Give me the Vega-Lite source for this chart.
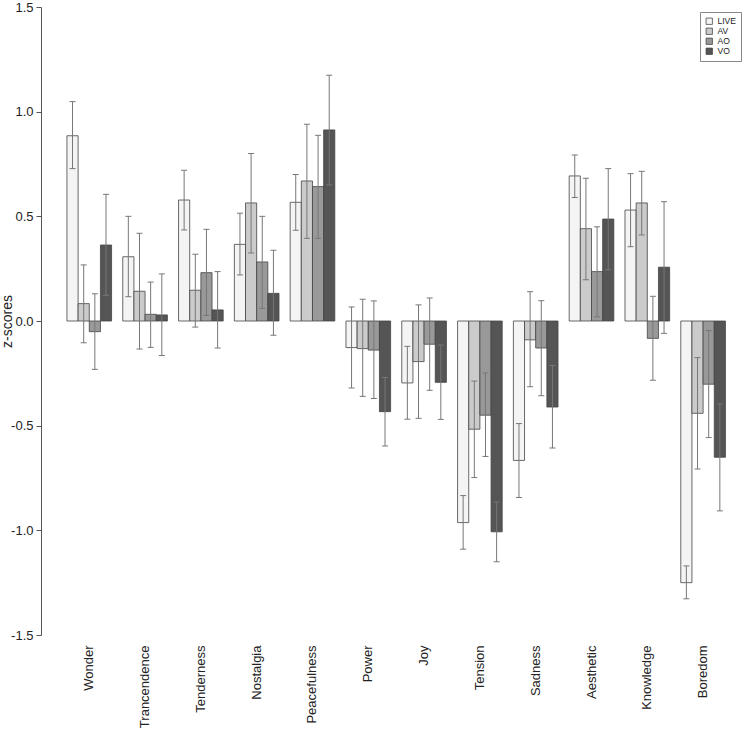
{
  "$schema": "https://vega.github.io/schema/vega-lite/v6.json",
  "width": 700,
  "height": 628,
  "autosize": {"type": "none"},
  "padding": {"left": 41, "top": 7, "right": 7, "bottom": 94},
  "background": "white",
  "config": {"view": {"stroke": null}, "font": "Liberation Sans"},
  "data": {
    "values": [
      {"emotion": "Wonder", "cond": "LIVE", "mean": 0.885, "lo": 0.728, "hi": 1.048},
      {"emotion": "Wonder", "cond": "AV", "mean": 0.083, "lo": -0.104, "hi": 0.268},
      {"emotion": "Wonder", "cond": "AO", "mean": -0.051, "lo": -0.231, "hi": 0.13},
      {"emotion": "Wonder", "cond": "VO", "mean": 0.363, "lo": 0.123, "hi": 0.605},
      {"emotion": "Trancendence", "cond": "LIVE", "mean": 0.307, "lo": 0.116, "hi": 0.5},
      {"emotion": "Trancendence", "cond": "AV", "mean": 0.142, "lo": -0.134, "hi": 0.419},
      {"emotion": "Trancendence", "cond": "AO", "mean": 0.032, "lo": -0.126, "hi": 0.186},
      {"emotion": "Trancendence", "cond": "VO", "mean": 0.029, "lo": -0.165, "hi": 0.225},
      {"emotion": "Tenderness", "cond": "LIVE", "mean": 0.578, "lo": 0.435, "hi": 0.72},
      {"emotion": "Tenderness", "cond": "AV", "mean": 0.147, "lo": -0.029, "hi": 0.319},
      {"emotion": "Tenderness", "cond": "AO", "mean": 0.231, "lo": 0.027, "hi": 0.438},
      {"emotion": "Tenderness", "cond": "VO", "mean": 0.053, "lo": -0.129, "hi": 0.236},
      {"emotion": "Nostalgia", "cond": "LIVE", "mean": 0.366, "lo": 0.22, "hi": 0.515},
      {"emotion": "Nostalgia", "cond": "AV", "mean": 0.564, "lo": 0.325, "hi": 0.8},
      {"emotion": "Nostalgia", "cond": "AO", "mean": 0.282, "lo": 0.06, "hi": 0.5},
      {"emotion": "Nostalgia", "cond": "VO", "mean": 0.132, "lo": -0.068, "hi": 0.338},
      {"emotion": "Peacefulness", "cond": "LIVE", "mean": 0.567, "lo": 0.433, "hi": 0.7},
      {"emotion": "Peacefulness", "cond": "AV", "mean": 0.669, "lo": 0.395, "hi": 0.94},
      {"emotion": "Peacefulness", "cond": "AO", "mean": 0.642, "lo": 0.395, "hi": 0.887},
      {"emotion": "Peacefulness", "cond": "VO", "mean": 0.913, "lo": 0.65, "hi": 1.174},
      {"emotion": "Power", "cond": "LIVE", "mean": -0.127, "lo": -0.32, "hi": 0.067},
      {"emotion": "Power", "cond": "AV", "mean": -0.132, "lo": -0.36, "hi": 0.104},
      {"emotion": "Power", "cond": "AO", "mean": -0.139, "lo": -0.37, "hi": 0.096},
      {"emotion": "Power", "cond": "VO", "mean": -0.433, "lo": -0.597, "hi": -0.27},
      {"emotion": "Joy", "cond": "LIVE", "mean": -0.296, "lo": -0.469, "hi": -0.121},
      {"emotion": "Joy", "cond": "AV", "mean": -0.194, "lo": -0.465, "hi": 0.077},
      {"emotion": "Joy", "cond": "AO", "mean": -0.111, "lo": -0.331, "hi": 0.11},
      {"emotion": "Joy", "cond": "VO", "mean": -0.293, "lo": -0.47, "hi": -0.115},
      {"emotion": "Tension", "cond": "LIVE", "mean": -0.963, "lo": -1.09, "hi": -0.834},
      {"emotion": "Tension", "cond": "AV", "mean": -0.517, "lo": -0.748, "hi": -0.287},
      {"emotion": "Tension", "cond": "AO", "mean": -0.45, "lo": -0.647, "hi": -0.248},
      {"emotion": "Tension", "cond": "VO", "mean": -1.007, "lo": -1.15, "hi": -0.865},
      {"emotion": "Sadness", "cond": "LIVE", "mean": -0.666, "lo": -0.843, "hi": -0.49},
      {"emotion": "Sadness", "cond": "AV", "mean": -0.09, "lo": -0.314, "hi": 0.14},
      {"emotion": "Sadness", "cond": "AO", "mean": -0.129, "lo": -0.357, "hi": 0.097},
      {"emotion": "Sadness", "cond": "VO", "mean": -0.411, "lo": -0.607, "hi": -0.213},
      {"emotion": "Aesthetic", "cond": "LIVE", "mean": 0.693, "lo": 0.59, "hi": 0.793},
      {"emotion": "Aesthetic", "cond": "AV", "mean": 0.441, "lo": 0.197, "hi": 0.682},
      {"emotion": "Aesthetic", "cond": "AO", "mean": 0.236, "lo": 0.02, "hi": 0.45},
      {"emotion": "Aesthetic", "cond": "VO", "mean": 0.487, "lo": 0.245, "hi": 0.728},
      {"emotion": "Knowledge", "cond": "LIVE", "mean": 0.53, "lo": 0.355, "hi": 0.704},
      {"emotion": "Knowledge", "cond": "AV", "mean": 0.564, "lo": 0.411, "hi": 0.715},
      {"emotion": "Knowledge", "cond": "AO", "mean": -0.083, "lo": -0.283, "hi": 0.118},
      {"emotion": "Knowledge", "cond": "VO", "mean": 0.257, "lo": -0.059, "hi": 0.57},
      {"emotion": "Boredom", "cond": "LIVE", "mean": -1.25, "lo": -1.327, "hi": -1.17},
      {"emotion": "Boredom", "cond": "AV", "mean": -0.441, "lo": -0.707, "hi": -0.175},
      {"emotion": "Boredom", "cond": "AO", "mean": -0.302, "lo": -0.557, "hi": -0.046},
      {"emotion": "Boredom", "cond": "VO", "mean": -0.651, "lo": -0.907, "hi": -0.396}
    ]
  },
  "encoding": {
    "x": {
      "field": "emotion",
      "type": "nominal",
      "sort": ["Wonder", "Trancendence", "Tenderness", "Nostalgia", "Peacefulness", "Power", "Joy", "Tension", "Sadness", "Aesthetic", "Knowledge", "Boredom"],
      "scale": {"paddingInner": 0.2, "paddingOuter": 0.372, "align": 0.625},
      "axis": {
        "title": null,
        "domain": false,
        "ticks": false,
        "labelAngle": -90,
        "labelAlign": "right",
        "labelBaseline": "middle",
        "labelPadding": 10,
        "labelFontSize": 13,
        "labelColor": "#222222",
        "labelFont": "Liberation Sans"
      }
    },
    "xOffset": {
      "field": "cond",
      "type": "nominal",
      "sort": ["LIVE", "AV", "AO", "VO"],
      "scale": {"paddingInner": 0, "paddingOuter": 0}
    }
  },
  "layer": [
    {
      "mark": {"type": "bar", "stroke": "#444444", "strokeWidth": 0.8},
      "encoding": {
        "y": {
          "field": "mean",
          "type": "quantitative",
          "scale": {"domain": [-1.5, 1.5], "nice": false, "zero": true},
          "axis": {
            "title": "z-scores",
            "titleFontSize": 14,
            "titleFontWeight": "normal",
            "titleColor": "#222222",
            "titleFont": "Liberation Sans",
            "titlePadding": -4,
            "values": [-1.5, -1, -0.5, 0, 0.5, 1, 1.5],
            "labelExpr": "(datum.value < 0 ? '-' : '') + format(abs(datum.value), '.1f')",
            "labelFontSize": 13,
            "labelColor": "#222222",
            "labelFont": "Liberation Sans",
            "tickSize": 5,
            "tickColor": "#555555",
            "domainColor": "#555555",
            "grid": false,
            "labelPadding": 3
          }
        },
        "fill": {
          "field": "cond",
          "type": "nominal",
          "sort": ["LIVE", "AV", "AO", "VO"],
          "scale": {"domain": ["LIVE", "AV", "AO", "VO"], "range": ["#f4f4f4", "#cbcbcb", "#999999", "#555555"]},
          "legend": {
            "title": null,
            "orient": "none",
            "legendX": 659,
            "legendY": 5,
            "strokeColor": "#888888",
            "fillColor": "white",
            "padding": 5,
            "symbolType": "square",
            "symbolSize": 40,
            "symbolStrokeColor": "#333333",
            "symbolStrokeWidth": 0.7,
            "symbolOpacity": 1,
            "labelFontSize": 8.5,
            "labelColor": "#222222",
            "labelFont": "Liberation Sans",
            "labelOffset": 4,
            "rowPadding": 0
          }
        }
      }
    },
    {
      "mark": {"type": "rule", "color": "#777777", "strokeWidth": 1},
      "encoding": {
        "y": {"field": "lo", "type": "quantitative"},
        "y2": {"field": "hi"}
      }
    },
    {
      "mark": {"type": "tick", "orient": "horizontal", "size": 6, "thickness": 1, "color": "#777777", "opacity": 1},
      "encoding": {
        "y": {"field": "lo", "type": "quantitative"}
      }
    },
    {
      "mark": {"type": "tick", "orient": "horizontal", "size": 6, "thickness": 1, "color": "#777777", "opacity": 1},
      "encoding": {
        "y": {"field": "hi", "type": "quantitative"}
      }
    }
  ]
}
